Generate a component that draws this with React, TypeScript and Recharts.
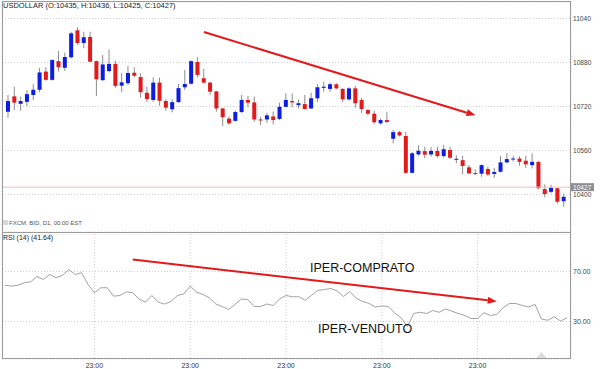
import React from "react";
import {
  ComposedChart,
  LineChart,
  Bar,
  Line,
  XAxis,
  YAxis,
  CartesianGrid,
  ReferenceLine,
  ReferenceDot,
} from "recharts";

// daily USDOLLAR candles
const opens = [
  10701, 10757, 10730, 10737, 10762, 10781, 10847, 10817, 10885, 10861,
  10899, 10997, 10951, 10973, 10885, 10816, 10849, 10875, 10796, 10805,
  10843, 10827, 10770, 10744, 10807, 10740, 10710, 10736, 10790, 10803,
  10882, 10823, 10807, 10775, 10713, 10676, 10668, 10700, 10744, 10735,
  10673, 10673, 10684, 10675, 10719, 10740, 10725, 10729, 10713, 10750,
  10788, 10784, 10801, 10784, 10746, 10786, 10744, 10707, 10694, 10659,
  10671, 10603, 10627, 10613, 10479, 10546, 10558, 10546, 10559, 10540,
  10562, 10528, 10525, 10499, 10478, 10476, 10493, 10475, 10483, 10517,
  10528, 10531, 10523, 10507, 10519, 10420, 10410, 10423, 10376,
];
const highs = [
  10762, 10792, 10756, 10779, 10801, 10861, 10863, 10892, 10922, 10916,
  10992, 11008, 10992, 10992, 10887, 10907, 10927, 10887, 10841, 10868,
  10863, 10841, 10792, 10826, 10825, 10746, 10746, 10802, 10853, 10888,
  10899, 10857, 10810, 10777, 10715, 10684, 10705, 10762, 10759, 10756,
  10683, 10697, 10702, 10734, 10768, 10768, 10746, 10762, 10770, 10802,
  10810, 10807, 10805, 10787, 10790, 10795, 10751, 10711, 10704, 10676,
  10701, 10635, 10631, 10628, 10555, 10579, 10574, 10572, 10574, 10580,
  10574, 10543, 10541, 10507, 10492, 10510, 10501, 10497, 10541, 10550,
  10541, 10539, 10541, 10550, 10521, 10437, 10436, 10424, 10404,
];
const lows = [
  10679, 10707, 10705, 10722, 10744, 10772, 10814, 10814, 10847, 10849,
  10895, 10944, 10932, 10883, 10758, 10813, 10844, 10788, 10772, 10798,
  10826, 10752, 10737, 10737, 10723, 10705, 10699, 10734, 10780, 10800,
  10826, 10804, 10762, 10701, 10649, 10653, 10665, 10697, 10717, 10665,
  10652, 10661, 10655, 10671, 10717, 10717, 10713, 10709, 10711, 10737,
  10774, 10774, 10783, 10736, 10741, 10716, 10697, 10688, 10657, 10654,
  10659, 10586, 10611, 10475, 10477, 10541, 10532, 10538, 10534, 10534,
  10529, 10514, 10474, 10475, 10471, 10465, 10468, 10461, 10480, 10514,
  10520, 10505, 10497, 10495, 10420, 10390, 10404, 10367, 10356,
];
const closes = [
  10740, 10734, 10740, 10765, 10781, 10844, 10817, 10889, 10863, 10900,
  10986, 10951, 10972, 10883, 10819, 10873, 10875, 10795, 10808, 10842,
  10832, 10772, 10747, 10807, 10741, 10716, 10736, 10787, 10802, 10885,
  10835, 10807, 10774, 10713, 10681, 10659, 10700, 10744, 10734, 10673,
  10671, 10688, 10671, 10719, 10744, 10735, 10732, 10711, 10750, 10790,
  10792, 10801, 10786, 10746, 10786, 10732, 10711, 10694, 10663, 10671,
  10664, 10627, 10615, 10479, 10550, 10559, 10545, 10559, 10540, 10565,
  10534, 10530, 10504, 10477, 10477, 10507, 10473, 10482, 10517, 10529,
  10531, 10519, 10510, 10519, 10423, 10402, 10425, 10374, 10392,
];
// RSI(14)
const rsiValues = [
  59, 58.3, 59, 61, 61.7, 66, 63.6, 67.6, 65, 67,
  71.6, 67.6, 69, 59.6, 53, 57, 57, 50.3, 50.8, 53.7,
  53, 48, 45.5, 50.8, 45.5, 44, 46, 50.8, 52, 58.3,
  53.5, 51.6, 49, 44, 42, 39.6, 43.6, 48, 47.6, 42,
  42, 44, 42.8, 48, 50.8, 49.8, 49.8, 47, 51, 55,
  55.5, 56.5, 54.5, 50, 54, 48.5, 46, 44.5, 41.5, 42.5,
  42, 37, 33, 26, 36.4, 37.4, 36.4, 38.8, 37.4, 40,
  38.2, 36.4, 34.8, 32.4, 32.4, 37, 34.8, 35.6, 41, 44.4,
  44.4, 42.8, 41.7, 43.6, 32, 31, 33.8, 30.3, 33,
];

const priceTicks = [10400, 10560, 10720, 10880, 11040];
const rsiTicks = [30, 70];
const timeTickIndex = [14, 29, 44, 59, 74];
const timeTickLabels = ["23:00", "23:00", "23:00", "23:00", "23:00"];
const lastPrice = 10427;

const bars = opens.map((o, i) => ({
  bar: `b${i}`,
  open: o,
  high: highs[i],
  low: lows[i],
  close: closes[i],
  range: [lows[i], highs[i]],
  rsi: rsiValues[i],
}));
const timeTicks = timeTickIndex.map((i) => bars[i].bar);

const FONT = "'Liberation Sans', Arial, sans-serif";
const UP = "#0d1ee0";
const DOWN = "#e31a1c";
const GRID = "#cfcfcf";

const Candle = (props: any) => {
  const { x, y, width, height, payload } = props;
  const top = Math.min(y, y + height);
  const h = Math.abs(height);
  const py = (v: number) => top + ((payload.high - v) / (payload.high - payload.low)) * h;
  const cx = x + width / 2;
  const up = payload.close >= payload.open;
  const bTop = py(Math.max(payload.open, payload.close));
  const bBot = py(Math.min(payload.open, payload.close));
  return (
    <g>
      <line x1={cx} x2={cx} y1={top} y2={top + h} stroke="#8c8c8c" strokeWidth={1} />
      <rect x={x} y={bTop} width={width} height={Math.max(1, bBot - bTop)} fill={up ? UP : DOWN} />
    </g>
  );
};

const Arrow = (p: any) => {
  const { x1, y1, x2, y2 } = p;
  const a = Math.atan2(y2 - y1, x2 - x1);
  const len = 9;
  const w = 3.5;
  const bx = x2 - len * Math.cos(a);
  const by = y2 - len * Math.sin(a);
  const pts = [
    [x2, y2],
    [bx - w * Math.sin(a), by + w * Math.cos(a)],
    [bx + w * Math.sin(a), by - w * Math.cos(a)],
  ]
    .map((q) => q.join(","))
    .join(" ");
  return (
    <g>
      <line x1={x1} y1={y1} x2={bx} y2={by} stroke={DOWN} strokeWidth={2} />
      <polygon points={pts} fill={DOWN} />
    </g>
  );
};

const PriceTag = (props: any) => {
  const vb = props.viewBox || {};
  const x = vb.x + vb.width;
  return (
    <g>
      <rect x={x} y={vb.y - 4} width={23} height={8} fill="#8f8f8f" />
      <text x={x + 2} y={vb.y + 2.4} fontSize={6.6} fill="#fff" fontFamily={FONT}>
        {lastPrice}
      </text>
    </g>
  );
};

const Tri = (props: any) => {
  const { cx, cy } = props;
  return <polygon points={`${cx - 5},${cy + 3} ${cx + 5},${cy + 3} ${cx},${cy - 3}`} fill="#dcdcdc" />;
};

const label = (left: number, top: number, size: number, color: string, text: string) => (
  <div
    style={{
      position: "absolute",
      left,
      top,
      fontSize: size,
      lineHeight: `${size}px`,
      color,
      fontFamily: FONT,
      whiteSpace: "nowrap",
      pointerEvents: "none",
    }}
  >
    {text}
  </div>
);

export default function App() {
  return (
    <div style={{ position: "absolute", left: 0, top: 0, width: 600, height: 369, background: "#fff" }}>
      <div style={{ position: "absolute", left: 0, top: 0 }}>
        <ComposedChart width={600} height={233} data={bars} margin={{ top: 2, right: 0, bottom: 1, left: 2 }}>
          <CartesianGrid stroke={GRID} strokeDasharray="1 2" />
          <XAxis
            dataKey="bar"
            height={0}
            padding={{ left: 3, right: 4 }}
            ticks={timeTicks}
            interval={0}
            tick={false}
            axisLine={false}
            tickLine={false}
          />
          <YAxis
            orientation="right"
            width={29}
            domain={[10264, 11100]}
            ticks={priceTicks}
            axisLine={false}
            tickLine={false}
            tickSize={0}
            tickMargin={2}
            tick={{ fontSize: 6.6, fill: "#444", fontFamily: FONT }}
          />
          <ReferenceLine y={lastPrice} stroke="#f3bcbc" label={<PriceTag />} />
          <Bar dataKey="range" barSize={4} shape={<Candle />} isAnimationActive={false} />
          <ReferenceLine
            segment={[
              { x: bars[31].bar, y: 10991 },
              { x: bars[74].bar, y: 10688 },
            ]}
            shape={<Arrow />}
          />
        </ComposedChart>
      </div>
      <div style={{ position: "absolute", left: 0, top: 234 }}>
        <LineChart width={600} height={135} data={bars} margin={{ top: 0, right: 0, bottom: 0, left: 2 }}>
          <CartesianGrid stroke={GRID} strokeDasharray="1 2" />
          <XAxis
            dataKey="bar"
            height={10}
            padding={{ left: 3, right: 4 }}
            ticks={timeTicks}
            interval={0}
            tickFormatter={(v) => timeTickLabels[timeTicks.indexOf(v)]}
            axisLine={false}
            tickLine={false}
            tickSize={0}
            tickMargin={4}
            tick={{ fontSize: 7, fill: "#333", fontFamily: FONT }}
          />
          <YAxis
            orientation="right"
            width={29}
            domain={[0, 100]}
            ticks={rsiTicks}
            tickFormatter={(v) => Number(v).toFixed(2)}
            axisLine={false}
            tickLine={false}
            tickSize={0}
            tickMargin={2}
            tick={{ fontSize: 7, fill: "#444", fontFamily: FONT }}
          />
          <Line dataKey="rsi" stroke="#8a8a8a" strokeWidth={0.8} dot={false} isAnimationActive={false} />
          <ReferenceDot x={bars[84].bar} y={3.2} r={4} shape={<Tri />} />
          <ReferenceLine
            segment={[
              { x: bars[20].bar, y: 79.6 },
              { x: bars[77].bar, y: 46.1 },
            ]}
            shape={<Arrow />}
          />
        </LineChart>
      </div>
      {/* panel frames */}
      <div style={{ position: "absolute", left: 2, top: 1, width: 569, height: 358, border: "1px solid #9a9a9a", boxSizing: "border-box", pointerEvents: "none" }} />
      <div style={{ position: "absolute", left: 2, top: 232, width: 569, height: 1, background: "#9a9a9a" }} />
      {label(3, 2.3, 7.5, "#222", "USDOLLAR (O:10435, H:10436, L:10425, C:10427)")}
      <div style={{ position: "absolute", left: 3, top: 220, width: 5, height: 5, background: "#d8d8d8" }} />
      {label(9, 219.8, 6, "#555", "FXCM, BID, D1, 00:00 EST")}
      {label(3, 234, 7, "#222", "RSI (14)  (41.64)")}
      {label(310, 262, 12.5, "#111", "IPER-COMPRATO")}
      {label(318, 322.5, 12.5, "#111", "IPER-VENDUTO")}
    </div>
  );
}
